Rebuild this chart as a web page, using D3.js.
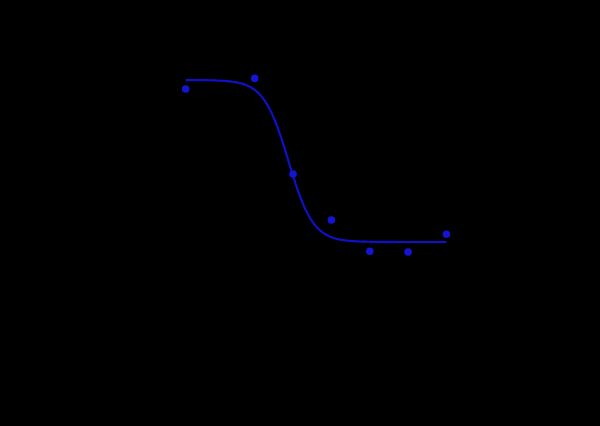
<!DOCTYPE html>
<html>
<head>
<meta charset="utf-8">
<script src="https://cdn.jsdelivr.net/npm/d3@7"></script>
<style>
  html, body { margin: 0; padding: 0; background: #000; }
  svg { display: block; }
</style>
</head>
<body>
<script>
// log concentration (M) and response (%)
const logConc = [-9.4, -8.5, -8.0, -7.5, -7.0, -6.5, -6.0];
const response = [94.4, 101.0, 42.0, 13.6, -5.7, -6.2, 4.8];

// fitted 4PL parameters
const fitTop = 100;
const fitBottom = 0;
const fitLogIC50 = -8.06;
const fitHill = 2.7;

const xTicks = [-10, -9, -8, -7, -6, -5];
const yTicks = [-40, -20, 0, 20, 40, 60, 80, 100, 120];

const width = 600, height = 426;
const margin = {top: 47.6, right: 76.85, bottom: 119.2, left: 139.65};

const svg = d3.select("body")
    .append("svg")
    .attr("width", width)
    .attr("height", height);

const x = d3.scaleLinear()
    .domain([-10, -5])
    .range([margin.left, width - margin.right]);

const y = d3.scaleLinear()
    .domain([-40, 120])
    .range([height - margin.bottom, margin.top]);

// axes are black like the rest of the original artwork
svg.append("g")
    .attr("transform", `translate(0,${height - margin.bottom})`)
    .attr("color", "black")
    .call(d3.axisBottom(x).tickValues(xTicks));

svg.append("g")
    .attr("transform", `translate(${margin.left},0)`)
    .attr("color", "black")
    .call(d3.axisLeft(y).tickValues(yTicks));

svg.append("text")
    .attr("x", (margin.left + width - margin.right) / 2)
    .attr("y", height - margin.bottom + 40)
    .attr("text-anchor", "middle")
    .attr("fill", "black")
    .attr("font-family", "Arial, sans-serif")
    .attr("font-size", 14)
    .text("log [Concentration] (M)");

svg.append("text")
    .attr("transform", `translate(${margin.left - 45},${(margin.top + height - margin.bottom) / 2}) rotate(-90)`)
    .attr("text-anchor", "middle")
    .attr("fill", "black")
    .attr("font-family", "Arial, sans-serif")
    .attr("font-size", 14)
    .text("Response (%)");

function fourPL(lx) {
    return fitBottom + (fitTop - fitBottom) / (1 + Math.pow(10, (lx - fitLogIC50) * fitHill));
}

const curveX = d3.range(200).map(i => d3.min(logConc) + i * (d3.max(logConc) - d3.min(logConc)) / 199);

svg.append("path")
    .datum(curveX)
    .attr("fill", "none")
    .attr("stroke", "#1010c8")
    .attr("stroke-width", 2.2)
    .attr("d", d3.line()
        .x(d => x(d))
        .y(d => y(fourPL(d))));

svg.append("g")
    .attr("fill", "#1414d2")
    .selectAll("circle")
    .data(logConc)
    .join("circle")
    .attr("cx", d => x(d))
    .attr("cy", (d, i) => y(response[i]))
    .attr("r", 3.8);
</script>
</body>
</html>
